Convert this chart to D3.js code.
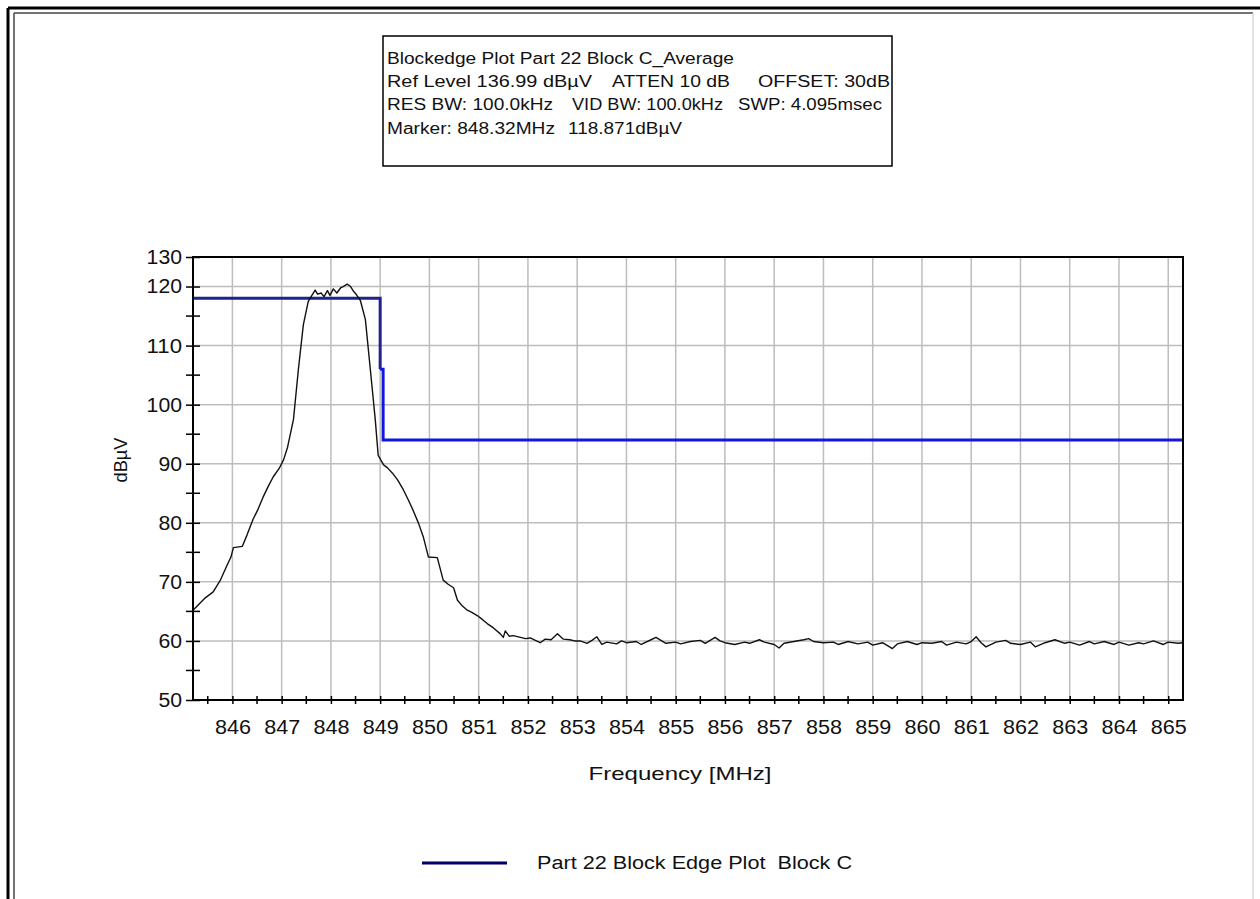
<!DOCTYPE html>
<html>
<head>
<meta charset="utf-8">
<script src="https://cdn.jsdelivr.net/npm/d3@7"></script>
<style>
  body { margin: 0; background: #fff; }
  svg { display: block; font-family: "Liberation Sans", Arial, sans-serif; }
  text { white-space: pre; }
</style>
</head>
<body>
<div id="chart"></div>
<script>
// Chart size and plot frame
const width = 1260;
const height = 899;
const plot = { left: 193, right: 1183, top: 257, bottom: 700 };

// Header box text (one array per line, segments spaced like the original)
const headerLines = [
  ["Blockedge Plot Part 22 Block C_Average"],
  ["Ref Level 136.99 dBµV", "ATTEN 10 dB", "OFFSET: 30dB"],
  ["RES BW: 100.0kHz", "VID BW: 100.0kHz", "SWP: 4.095msec"],
  ["Marker: 848.32MHz", "118.871dBµV"]
];

// Axis ticks
const xMajorTicks = [846, 847, 848, 849, 850, 851, 852, 853, 854, 855, 856, 857, 858, 859, 860, 861, 862, 863, 864, 865];
const yTickValues = [50, 60, 70, 80, 90, 100, 110, 120, 125];
const yTickLabels = ["50", "60", "70", "80", "90", "100", "110", "120", "130"];
const yGridValues = [60, 70, 80, 90, 100, 110, 120];
const xTitle = "Frequency [MHz]";
const yTitle = "dBµV";
const legendLabel = "Part 22 Block Edge Plot  Block C";

// Block edge limit (dBµV)
const limitFreq = [845.2, 849.0, 849.0, 849.06, 849.06, 865.3];
const limitLevel = [118, 118, 106, 106, 94, 94];

const traceFreq = [
  845.21, 845.32, 845.45, 845.61, 845.75, 845.88, 845.97, 846.02, 846.2, 846.3,
  846.42, 846.51, 846.62, 846.73, 846.83, 846.95, 847.04, 847.12, 847.24, 847.34,
  847.44, 847.54, 847.62, 847.68, 847.73, 847.8, 847.86, 847.93, 847.98, 848.05,
  848.12, 848.2, 848.25, 848.33, 848.4, 848.46, 848.52, 848.6, 848.7, 848.8,
  848.9, 848.96, 849.07, 849.15, 849.25, 849.35, 849.47, 849.57, 849.67, 849.78,
  849.88, 849.98, 850.16, 850.28, 850.38, 850.49, 850.57, 850.67, 850.77, 850.87,
  850.97, 851.08, 851.18, 851.3, 851.44, 851.5, 851.54, 851.62, 851.7, 851.85,
  851.95, 852.05, 852.15, 852.25, 852.35, 852.47, 852.6, 852.72, 852.85, 852.95,
  853.06, 853.2, 853.3, 853.4, 853.5, 853.6, 853.8, 853.9, 854.0, 854.2,
  854.3, 854.5, 854.6, 854.7, 854.8, 855.0, 855.1, 855.3, 855.5, 855.6,
  855.8, 855.9, 856.0, 856.2, 856.4, 856.5, 856.7, 856.8, 857.0, 857.1,
  857.2, 857.4, 857.6, 857.7, 857.8, 858.0, 858.2, 858.3, 858.5, 858.7,
  858.9, 859.0, 859.2, 859.4, 859.5, 859.7, 859.9, 860.0, 860.2, 860.4,
  860.5, 860.7, 860.9, 861.0, 861.1, 861.2, 861.3, 861.5, 861.7, 861.8,
  862.0, 862.2, 862.3, 862.5, 862.7, 862.9, 863.0, 863.2, 863.4, 863.5,
  863.7, 863.9, 864.0, 864.2, 864.4, 864.5, 864.7, 864.9, 865.0, 865.2, 865.3
];
const traceLevel = [
  65.3, 66.2, 67.3, 68.3, 70.2, 72.6, 74.2, 75.8, 76.0, 78.0,
  80.6, 82.1, 84.3, 86.2, 87.8, 89.2, 90.7, 92.8, 97.5, 106.0,
  113.5, 117.5, 118.6, 119.4, 118.7, 118.9, 118.3, 119.3, 118.5, 119.6,
  118.9, 119.8, 120.0, 120.4, 120.0, 119.2, 118.6, 117.6, 114.4, 106.0,
  97.5, 91.4, 89.8, 89.3, 88.4, 87.3, 85.6, 83.9, 82.1, 79.9,
  77.5, 74.2, 74.1, 70.3, 69.6, 69.0, 66.9, 65.9, 65.2, 64.8,
  64.3, 63.6, 62.9, 62.2, 61.2, 60.6, 61.7, 60.8, 60.9, 60.6,
  60.4, 60.5, 60.1, 59.7, 60.3, 60.2, 61.2, 60.3, 60.2, 60.0,
  60.0, 59.6, 60.1, 60.7, 59.4, 59.8, 59.5, 60.0, 59.7, 59.9,
  59.4, 60.2, 60.6, 60.1, 59.6, 59.8, 59.5, 59.9, 60.1, 59.6,
  60.6, 60.0, 59.7, 59.4, 59.8, 59.6, 60.2, 59.8, 59.4, 58.8,
  59.6, 59.9, 60.2, 60.4, 59.9, 59.7, 59.8, 59.4, 59.9, 59.5,
  59.8, 59.3, 59.7, 58.7, 59.5, 59.9, 59.4, 59.7, 59.6, 59.9,
  59.3, 59.8, 59.5, 59.9, 60.7, 59.7, 59.0, 59.8, 60.1, 59.6,
  59.4, 59.8, 59.0, 59.7, 60.2, 59.6, 59.8, 59.3, 59.9, 59.5,
  59.9, 59.4, 59.8, 59.3, 59.7, 59.5, 60.0, 59.4, 59.8, 59.6, 59.7
];

const svg = d3.select("#chart").append("svg")
  .attr("width", width)
  .attr("height", height);

// Window frame
svg.append("line").attr("x1", 8).attr("y1", 8).attr("x2", width).attr("y2", 8)
  .attr("stroke", "#000").attr("stroke-width", 3);
svg.append("line").attr("x1", 8).attr("y1", 8).attr("x2", 8).attr("y2", height)
  .attr("stroke", "#000").attr("stroke-width", 3);
svg.append("line").attr("x1", 14).attr("y1", 13).attr("x2", 1253).attr("y2", 13)
  .attr("stroke", "#444").attr("stroke-width", 1.5);
svg.append("line").attr("x1", 14).attr("y1", 13).attr("x2", 14).attr("y2", height)
  .attr("stroke", "#444").attr("stroke-width", 1.5);
svg.append("line").attr("x1", 1253).attr("y1", 13).attr("x2", 1253).attr("y2", height)
  .attr("stroke", "#d8d8d8").attr("stroke-width", 1.5);

// Header box
svg.append("rect")
  .attr("x", 383).attr("y", 36).attr("width", 509).attr("height", 130)
  .attr("fill", "#fff").attr("stroke", "#000").attr("stroke-width", 1.5);

const headerX = [[387], [387, 612, 758], [387, 572, 738], [387, 568]];
const headerW = [[347], [205, 118, 132], [166, 151, 144], [168, 114]];
const headerY = [64, 87, 110, 134];
headerLines.forEach((segs, i) => {
  segs.forEach((s, j) => {
    svg.append("text")
      .attr("x", headerX[i][j]).attr("y", headerY[i])
      .attr("font-size", 16)
      .attr("fill", "#111")
      .attr("textLength", headerW[i][j])
      .attr("lengthAdjust", "spacingAndGlyphs")
      .text(s);
  });
});

// Scales
const x = d3.scaleLinear().domain([845.2, 865.3]).range([plot.left, plot.right]);
const y = d3.scaleLinear().domain([50, 125]).range([plot.bottom, plot.top]);

// Grid
const grid = svg.append("g").attr("stroke", "#bdbdbd").attr("stroke-width", 1.5);
grid.selectAll("line.v").data(xMajorTicks).enter().append("line")
  .attr("x1", d => x(d)).attr("x2", d => x(d))
  .attr("y1", plot.top).attr("y2", plot.bottom);
grid.selectAll("line.h").data(yGridValues).enter().append("line")
  .attr("x1", plot.left).attr("x2", plot.right)
  .attr("y1", d => y(d)).attr("y2", d => y(d));

// Limit line: navy on top, brighter blue after the step
const limitPts = limitFreq.map((f, i) => [x(f), y(limitLevel[i])]);
const line = d3.line();
svg.append("path")
  .attr("d", line(limitPts.slice(0, 3)))
  .attr("fill", "none").attr("stroke", "#22228c").attr("stroke-width", 3);
svg.append("path")
  .attr("d", line(limitPts.slice(2)))
  .attr("fill", "none").attr("stroke", "#1515e0").attr("stroke-width", 3);

// Trace
const tracePts = traceFreq.map((f, i) => [x(f), y(traceLevel[i])]);
svg.append("path")
  .attr("d", line(tracePts))
  .attr("fill", "none").attr("stroke", "#111").attr("stroke-width", 1.4)
  .attr("stroke-linejoin", "round");

// Plot frame
svg.append("rect")
  .attr("x", plot.left).attr("y", plot.top)
  .attr("width", plot.right - plot.left).attr("height", plot.bottom - plot.top)
  .attr("fill", "none").attr("stroke", "#000").attr("stroke-width", 2);

// X axis
const xAxis = svg.append("g")
  .attr("transform", `translate(0,${plot.bottom})`)
  .call(d3.axisBottom(x).tickValues(xMajorTicks).tickFormat(d3.format("d"))
    .tickSize(4).tickPadding(16));
xAxis.select(".domain").remove();
xAxis.selectAll(".tick line").attr("y1", -4).attr("y2", 4).attr("stroke-width", 1.5);
xAxis.selectAll(".tick text")
  .attr("font-size", 20).attr("font-family", "Liberation Sans, Arial, sans-serif")
  .attr("fill", "#111")
  .attr("textLength", 36).attr("lengthAdjust", "spacingAndGlyphs");
svg.append("g").selectAll("line")
  .data(d3.range(845.5, 865.5, 1)).enter().append("line")
  .attr("x1", d => x(d)).attr("x2", d => x(d))
  .attr("y1", plot.bottom - 4).attr("y2", plot.bottom + 4)
  .attr("stroke", "#000").attr("stroke-width", 1.5);

// Y axis
const yAxis = svg.append("g")
  .attr("transform", `translate(${plot.left},0)`)
  .call(d3.axisLeft(y).tickValues(yTickValues).tickFormat((d, i) => yTickLabels[i])
    .tickSize(7).tickPadding(4));
yAxis.select(".domain").remove();
yAxis.selectAll(".tick line").attr("x1", -7).attr("x2", 7).attr("stroke-width", 1.5);
yAxis.selectAll(".tick text")
  .attr("font-size", 20).attr("font-family", "Liberation Sans, Arial, sans-serif")
  .attr("fill", "#111")
  .attr("textLength", (d, i) => yTickLabels[i].length * 11.8)
  .attr("lengthAdjust", "spacingAndGlyphs");
svg.append("g").selectAll("line")
  .data([55, 65, 75, 85, 95, 105, 115]).enter().append("line")
  .attr("x1", plot.left - 7).attr("x2", plot.left + 7)
  .attr("y1", d => y(d)).attr("y2", d => y(d))
  .attr("stroke", "#000").attr("stroke-width", 1.5);

// Axis titles
svg.append("text")
  .attr("x", 680).attr("y", 780)
  .attr("text-anchor", "middle").attr("font-size", 19).attr("fill", "#111")
  .attr("textLength", 183).attr("lengthAdjust", "spacingAndGlyphs")
  .text(xTitle);
svg.append("text")
  .attr("transform", "translate(127,460) rotate(-90)")
  .attr("text-anchor", "middle").attr("font-size", 18).attr("fill", "#111")
  .attr("textLength", 45).attr("lengthAdjust", "spacingAndGlyphs")
  .text(yTitle);

// Legend
svg.append("line")
  .attr("x1", 422).attr("x2", 507).attr("y1", 863).attr("y2", 863)
  .attr("stroke", "#000066").attr("stroke-width", 3);
svg.append("text")
  .attr("x", 537).attr("y", 869)
  .attr("font-size", 18).attr("fill", "#111")
  .attr("textLength", 315).attr("lengthAdjust", "spacingAndGlyphs")
  .text(legendLabel);
</script>
</body>
</html>
